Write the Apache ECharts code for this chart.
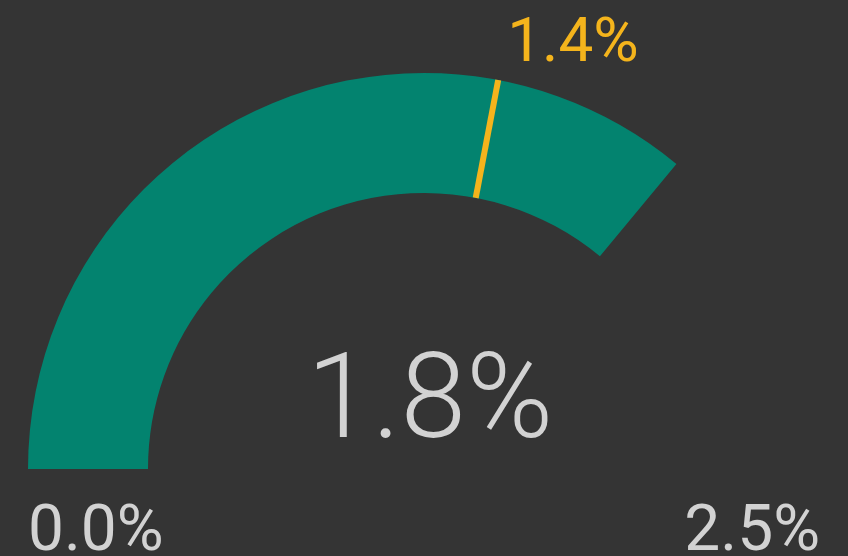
<!DOCTYPE html>
<html>
<head>
<meta charset="utf-8">
<script src="https://cdn.jsdelivr.net/npm/echarts@6/dist/echarts.min.js"></script>
<style>
  html, body { margin: 0; padding: 0; background: #343434; }
  #chart { width: 848px; height: 556px; }
</style>
</head>
<body>
<div id="chart"></div>
<script>
// gauge range and values
const scaleRange = [0, 2.5]
const actualValue = [1.8]
const targetValue = [1.4]

const chart = echarts.init(document.getElementById('chart'))

const pct = v => v.toFixed(1) + '%'

const base = {
  type: 'gauge',
  center: [424, 469],
  radius: 396,
  startAngle: 180,
  endAngle: 0,
  min: scaleRange[0],
  max: scaleRange[1],
  splitNumber: 1,
  axisLine: { show: false },
  axisTick: { show: false },
  splitLine: { show: false, length: 0, distance: 0 },
  anchor: { show: false },
  title: { show: false }
}

chart.setOption({
  backgroundColor: '#343434',
  animation: false,
  series: [
    {
      ...base,
      z: 2,
      progress: {
        show: true,
        width: 120,
        itemStyle: { color: '#03836f' }
      },
      pointer: { show: false },
      axisLabel: {
        show: true,
        distance: 0,
        color: '#d2d2d2',
        fontFamily: 'Roboto',
        fontSize: 64,
        lineHeight: 130,
        // push the min / max labels below the arc ends
        formatter: v => '\n' + pct(v)
      },
      detail: {
        show: true,
        offsetCenter: [6, -62],
        color: '#d2d2d2',
        fontFamily: 'Roboto',
        fontWeight: 300,
        fontSize: 118,
        formatter: pct
      },
      data: actualValue.map(v => ({ value: v }))
    },
    {
      ...base,
      z: 5,
      progress: { show: false },
      axisLabel: { show: false },
      pointer: {
        show: true,
        icon: 'rect',
        length: 120,
        width: 6,
        offsetCenter: [0, -276],
        itemStyle: { color: '#f4b41c' }
      },
      detail: {
        show: true,
        offsetCenter: [149, -424],
        color: '#f4b41c',
        fontFamily: 'Roboto',
        fontWeight: 'normal',
        fontSize: 62,
        formatter: pct
      },
      data: targetValue.map(v => ({ value: v }))
    }
  ]
})
</script>
</body>
</html>
